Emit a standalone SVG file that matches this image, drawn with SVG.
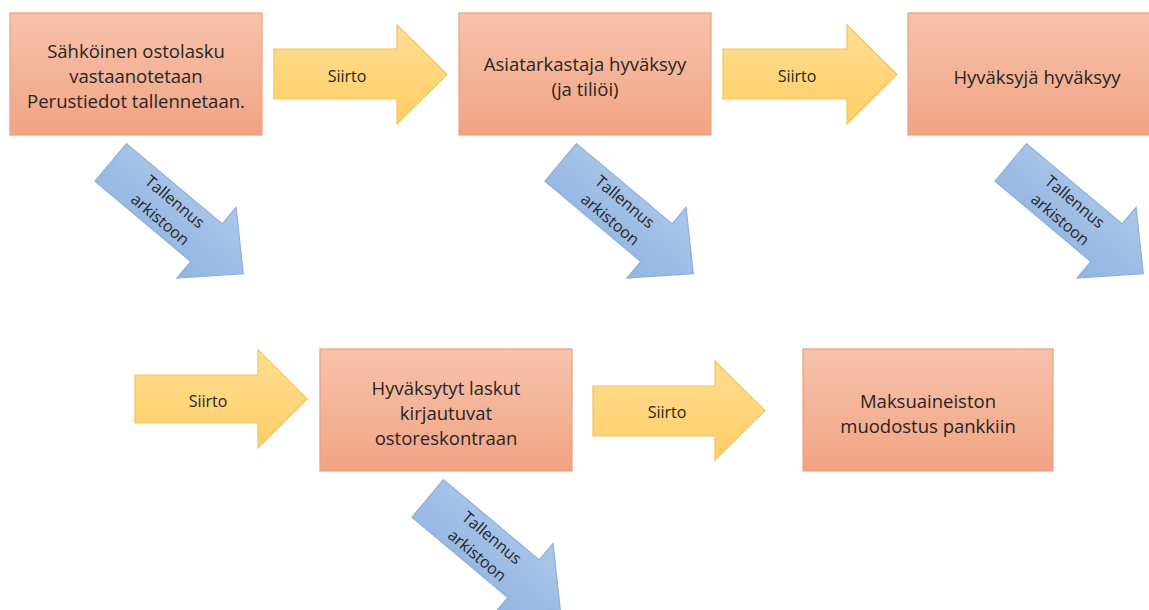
<svg xmlns="http://www.w3.org/2000/svg" width="1149" height="610" viewBox="0 0 1149 610">
<style>
.box{fill:url(#gOr);stroke:#E9A07F;stroke-width:1.2}
.yel{fill:url(#gYe);stroke:#F2C35A;stroke-width:1.2}
.blu{fill:url(#gBl);stroke:#8EAFD9;stroke-width:1.2}
text{font-family:"Open Sans","Liberation Sans",sans-serif;fill:#262626;text-anchor:middle;dominant-baseline:central}
.bt{font-size:18.5px}
.at{font-size:16px}
</style>
<defs>
<linearGradient id="gOr" x1="0" y1="0" x2="0" y2="1">
<stop offset="0" stop-color="#F7C3AB"/><stop offset="1" stop-color="#F2A383"/>
</linearGradient>
<linearGradient id="gYe" x1="0" y1="0" x2="0" y2="1">
<stop offset="0" stop-color="#FFDD93"/><stop offset="1" stop-color="#FFCF66"/>
</linearGradient>
<linearGradient id="gBl" x1="0" y1="0" x2="0" y2="1">
<stop offset="0" stop-color="#ACC7EA"/><stop offset="1" stop-color="#91B4E1"/>
</linearGradient>
<path id="barrow" d="M-86.5,-24.5 H38.5 V-46 L86.5,0 L38.5,46 V24.5 H-86.5 Z"/>
</defs>
<rect width="1149" height="610" fill="#fff"/>
<g id="connectors">
<g id="siirto1"><path class="yel" d="M274,49 H397 V25 L447,74.5 L397,124 V99 H274 Z"/><text class="at" x="347" y="76">Siirto</text></g>
<g id="siirto2"><path class="yel" d="M723,49 H847 V25 L897,74.5 L847,124 V99 H723 Z"/><text class="at" x="797" y="76">Siirto</text></g>
<g id="siirto3"><path class="yel" d="M135,375 H258 V350 L307,399 L258,448 V423 H135 Z"/><text class="at" x="208" y="401">Siirto</text></g>
<g id="siirto4"><path class="yel" d="M593,386 H715 V361 L765,410.5 L715,460 V436 H593 Z"/><text class="at" x="667" y="412">Siirto</text></g>
<g id="arkisto1" transform="translate(177,218) rotate(40)"><use href="#barrow" class="blu"/><text class="at" x="-12" y="-11.5">Tallennus</text><text class="at" x="-12" y="11.5">arkistoon</text></g>
<g id="arkisto2" transform="translate(627,218) rotate(40)"><use href="#barrow" class="blu"/><text class="at" x="-12" y="-11.5">Tallennus</text><text class="at" x="-12" y="11.5">arkistoon</text></g>
<g id="arkisto3" transform="translate(1077,218) rotate(40)"><use href="#barrow" class="blu"/><text class="at" x="-12" y="-11.5">Tallennus</text><text class="at" x="-12" y="11.5">arkistoon</text></g>
<g id="arkisto4" transform="translate(494,554) rotate(40)"><use href="#barrow" class="blu"/><text class="at" x="-12" y="-11.5">Tallennus</text><text class="at" x="-12" y="11.5">arkistoon</text></g>
</g>
<g id="box1"><rect class="box" x="10" y="13" width="252" height="122"/>
<text class="bt" x="136" y="50">Sähköinen ostolasku</text><text class="bt" x="136" y="75">vastaanotetaan</text><text class="bt" x="136" y="100">Perustiedot tallennetaan.</text></g>
<g id="box2"><rect class="box" x="459" y="13" width="252" height="122"/>
<text class="bt" x="585" y="63">Asiatarkastaja hyväksyy</text><text class="bt" x="585" y="88">(ja tiliöi)</text></g>
<g id="box3"><rect class="box" x="908" y="13" width="252" height="122"/>
<text class="bt" x="1037" y="76">Hyväksyjä hyväksyy</text></g>
<g id="box4"><rect class="box" x="320" y="349" width="252" height="122"/>
<text class="bt" x="446" y="387">Hyväksytyt laskut</text><text class="bt" x="446" y="412">kirjautuvat</text><text class="bt" x="446" y="437">ostoreskontraan</text></g>
<g id="box5"><rect class="box" x="803" y="349" width="250" height="122"/>
<text class="bt" x="928" y="400">Maksuaineiston</text><text class="bt" x="928" y="425">muodostus pankkiin</text></g>
</svg>
